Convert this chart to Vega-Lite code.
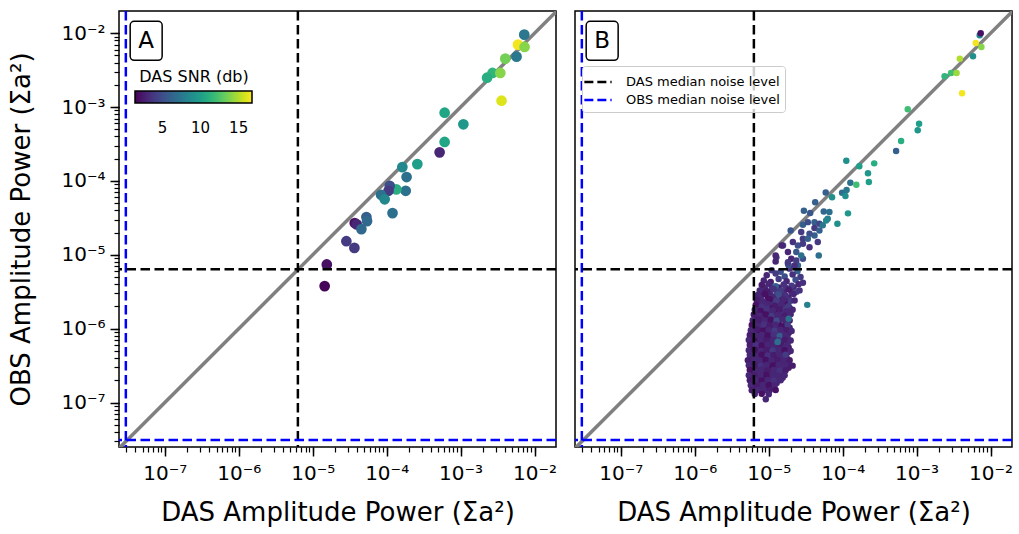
{
"$schema":"https://vega.github.io/schema/vega-lite/v6.json",
"padding":{"left":8,"top":9,"right":5,"bottom":5},
"config":{"font":"DejaVu Sans","view":{"stroke":"black","strokeWidth":1.5},
"axis":{"grid":false,"domain":false,"tickColor":"black","labelColor":"black","titleColor":"black","labelFont":"DejaVu Sans","titleFont":"DejaVu Sans","titleFontWeight":"normal"},
"legend":{"labelFont":"DejaVu Sans","titleFont":"DejaVu Sans","labelColor":"black","titleColor":"black"}},
"datasets":{
"diag":[{"x":2.0e-8,"y":2.0e-8},{"x":3.0e-2,"y":3.0e-2}],
"vlines":[{"x":6.3e-6,"name":"DAS median noise level"},{"x":2.97e-8,"name":"OBS median noise level"}],
"hlines":[{"y":6.4e-6,"name":"DAS median noise level"},{"y":3.1e-8,"name":"OBS median noise level"}],
"boxA":[{"label":"A","x":3.4e-8,"x2":9.2e-8,"y":4.3e-3,"y2":1.45e-2,"xc":5.6e-8,"yc":7.9e-3}],
"boxB":[{"label":"B","x":3.4e-8,"x2":9.2e-8,"y":4.3e-3,"y2":1.45e-2,"xc":5.6e-8,"yc":7.9e-3}],
"ptsA":[
{"x":7.26e-3,"y":9.57e-3,"s":7.5},{"x":5.97e-3,"y":7.01e-3,"s":16.5},{"x":7.33e-3,"y":6.52e-3,"s":14},{"x":4.02e-3,"y":4.53e-3,"s":13.5},{"x":5.71e-3,"y":4.82e-3,"s":7.5},{"x":2.70e-3,"y":2.90e-3,"s":11.5},{"x":2.28e-3,"y":2.50e-3,"s":11},{"x":3.44e-3,"y":2.90e-3,"s":14},{"x":3.58e-3,"y":1.22e-3,"s":16},{"x":6.08e-4,"y":8.39e-4,"s":10.5},{"x":1.09e-3,"y":5.85e-4,"s":9.5},{"x":6.08e-4,"y":3.37e-4,"s":10.5},{"x":5.20e-4,"y":2.44e-4,"s":3},{"x":1.63e-4,"y":1.54e-4,"s":8.5},{"x":2.60e-4,"y":1.69e-4,"s":10},{"x":1.86e-4,"y":1.13e-4,"s":7},{"x":1.81e-4,"y":7.36e-5,"s":7},{"x":1.35e-4,"y":7.69e-5,"s":11},{"x":1.10e-4,"y":8.61e-5,"s":5},{"x":1.06e-4,"y":7.36e-5,"s":4},{"x":8.39e-5,"y":6.50e-5,"s":7},{"x":9.40e-5,"y":5.64e-5,"s":8.5},{"x":1.20e-4,"y":3.67e-5,"s":7},{"x":5.32e-5,"y":3.24e-5,"s":6},{"x":5.43e-5,"y":2.86e-5,"s":6.5},{"x":3.70e-5,"y":2.69e-5,"s":2},{"x":3.94e-5,"y":2.58e-5,"s":3},{"x":4.55e-5,"y":2.23e-5,"s":6.5},{"x":2.85e-5,"y":1.53e-5,"s":4},{"x":3.66e-5,"y":1.24e-5,"s":4},{"x":1.55e-5,"y":7.41e-6,"s":2},{"x":1.45e-5,"y":3.77e-6,"s":1.5}],
"ptsB":[
{"x":8.84e-6,"y":3.6e-6,"s":3},{"x":1.097e-5,"y":3.55e-6,"s":3.5},{"x":1.363e-5,"y":3.62e-6,"s":2.5},{"x":1.694e-5,"y":3.57e-6,"s":4},{"x":2.17e-5,"y":3.6e-6,"s":3},
{"x":8.3e-6,"y":3.05e-6,"s":2.5},{"x":1.031e-5,"y":3.1e-6,"s":3},{"x":1.281e-5,"y":3.03e-6,"s":4.5},{"x":1.592e-5,"y":3.08e-6,"s":3},{"x":2.04e-5,"y":3.05e-6,"s":3.5},
{"x":7.8e-6,"y":2.62e-6,"s":3},{"x":9.69e-6,"y":2.66e-6,"s":2},{"x":1.204e-5,"y":2.6e-6,"s":3},{"x":1.496e-5,"y":2.64e-6,"s":2.5},{"x":1.859e-5,"y":2.61e-6,"s":3},
{"x":7.56e-6,"y":2.26e-6,"s":3},{"x":9.12e-6,"y":2.23e-6,"s":2.5},{"x":1.132e-5,"y":2.27e-6,"s":3.5},{"x":1.406e-5,"y":2.24e-6,"s":3},{"x":1.747e-5,"y":2.26e-6,"s":2},
{"x":7.11e-6,"y":1.93e-6,"s":2.5},{"x":8.57e-6,"y":1.9e-6,"s":3},{"x":1.031e-5,"y":1.94e-6,"s":2},{"x":1.281e-5,"y":1.91e-6,"s":3},{"x":1.592e-5,"y":1.93e-6,"s":4},{"x":1.918e-5,"y":1.9e-6,"s":3},
{"x":6.89e-6,"y":1.65e-6,"s":3},{"x":8.3e-6,"y":1.63e-6,"s":2.5},{"x":1.0e-5,"y":1.66e-6,"s":3},{"x":1.242e-5,"y":1.64e-6,"s":2},{"x":1.496e-5,"y":1.65e-6,"s":3.5},{"x":1.859e-5,"y":1.63e-6,"s":3},
{"x":6.68e-6,"y":1.41e-6,"s":2},{"x":8.05e-6,"y":1.4e-6,"s":3},{"x":9.69e-6,"y":1.42e-6,"s":3},{"x":1.204e-5,"y":1.39e-6,"s":2.5},{"x":1.45e-5,"y":1.41e-6,"s":3},{"x":1.747e-5,"y":1.4e-6,"s":4},
{"x":6.48e-6,"y":1.2e-6,"s":3},{"x":7.8e-6,"y":1.21e-6,"s":2.5},{"x":9.4e-6,"y":1.19e-6,"s":3},{"x":1.132e-5,"y":1.21e-6,"s":3.5},{"x":1.363e-5,"y":1.2e-6,"s":2},{"x":1.694e-5,"y":1.19e-6,"s":3},
{"x":6.28e-6,"y":1.03e-6,"s":2.5},{"x":7.56e-6,"y":1.04e-6,"s":3},{"x":9.12e-6,"y":1.02e-6,"s":2},{"x":1.097e-5,"y":1.035e-6,"s":3},{"x":1.321e-5,"y":1.025e-6,"s":3},{"x":1.592e-5,"y":1.04e-6,"s":2.5},{"x":1.918e-5,"y":1.03e-6,"s":3},
{"x":6.09e-6,"y":8.8e-7,"s":3},{"x":7.33e-6,"y":8.9e-7,"s":2},{"x":8.84e-6,"y":8.75e-7,"s":3},{"x":1.064e-5,"y":8.85e-7,"s":2.5},{"x":1.281e-5,"y":8.8e-7,"s":3},{"x":1.543e-5,"y":8.9e-7,"s":3.5},{"x":1.859e-5,"y":8.75e-7,"s":2.5},
{"x":5.9e-6,"y":7.5e-7,"s":2.5},{"x":7.11e-6,"y":7.6e-7,"s":3},{"x":8.57e-6,"y":7.55e-7,"s":2.5},{"x":1.031e-5,"y":7.5e-7,"s":3},{"x":1.242e-5,"y":7.6e-7,"s":2},{"x":1.496e-5,"y":7.55e-7,"s":3},{"x":1.803e-5,"y":7.5e-7,"s":3},
{"x":5.9e-6,"y":6.45e-7,"s":3},{"x":7.11e-6,"y":6.5e-7,"s":2.5},{"x":8.57e-6,"y":6.4e-7,"s":3},{"x":1.031e-5,"y":6.48e-7,"s":2},{"x":1.242e-5,"y":6.44e-7,"s":3},{"x":1.496e-5,"y":6.5e-7,"s":2.5},{"x":1.803e-5,"y":6.42e-7,"s":3.5},
{"x":5.9e-6,"y":5.55e-7,"s":2},{"x":7.11e-6,"y":5.5e-7,"s":3},{"x":8.57e-6,"y":5.56e-7,"s":3},{"x":1.031e-5,"y":5.5e-7,"s":2.5},{"x":1.242e-5,"y":5.54e-7,"s":3},{"x":1.496e-5,"y":5.52e-7,"s":3},{"x":1.859e-5,"y":5.55e-7,"s":2.5},
{"x":5.9e-6,"y":4.75e-7,"s":3},{"x":7.11e-6,"y":4.7e-7,"s":2.5},{"x":8.57e-6,"y":4.76e-7,"s":3},{"x":1.031e-5,"y":4.72e-7,"s":2},{"x":1.242e-5,"y":4.74e-7,"s":3.5},{"x":1.496e-5,"y":4.7e-7,"s":3},{"x":1.803e-5,"y":4.75e-7,"s":2.5},
{"x":5.73e-6,"y":4.05e-7,"s":3},{"x":6.89e-6,"y":4.0e-7,"s":2},{"x":8.3e-6,"y":4.06e-7,"s":3},{"x":1.0e-5,"y":4.02e-7,"s":3},{"x":1.204e-5,"y":4.05e-7,"s":2.5},{"x":1.45e-5,"y":4.0e-7,"s":3},{"x":1.747e-5,"y":4.04e-7,"s":3},
{"x":5.73e-6,"y":3.45e-7,"s":2.5},{"x":6.89e-6,"y":3.48e-7,"s":3},{"x":8.3e-6,"y":3.44e-7,"s":2.5},{"x":1.0e-5,"y":3.47e-7,"s":3},{"x":1.204e-5,"y":3.45e-7,"s":2},{"x":1.45e-5,"y":3.48e-7,"s":3},{"x":1.803e-5,"y":3.44e-7,"s":3},
{"x":5.9e-6,"y":2.97e-7,"s":3},{"x":7.11e-6,"y":2.94e-7,"s":2.5},{"x":8.57e-6,"y":2.98e-7,"s":3},{"x":1.031e-5,"y":2.95e-7,"s":2},{"x":1.242e-5,"y":2.97e-7,"s":3},{"x":1.496e-5,"y":2.94e-7,"s":3.5},{"x":1.859e-5,"y":2.96e-7,"s":2.5},
{"x":5.9e-6,"y":2.54e-7,"s":2.5},{"x":7.11e-6,"y":2.52e-7,"s":3},{"x":8.57e-6,"y":2.55e-7,"s":2},{"x":1.031e-5,"y":2.52e-7,"s":3},{"x":1.242e-5,"y":2.54e-7,"s":3},{"x":1.496e-5,"y":2.52e-7,"s":2.5},
{"x":5.9e-6,"y":2.17e-7,"s":3},{"x":7.11e-6,"y":2.15e-7,"s":2},{"x":8.57e-6,"y":2.18e-7,"s":3},{"x":1.031e-5,"y":2.15e-7,"s":2.5},{"x":1.242e-5,"y":2.17e-7,"s":3},{"x":1.543e-5,"y":2.16e-7,"s":3},
{"x":6.09e-6,"y":1.86e-7,"s":2.5},{"x":7.33e-6,"y":1.84e-7,"s":3},{"x":8.84e-6,"y":1.86e-7,"s":3},{"x":1.064e-5,"y":1.85e-7,"s":2},{"x":1.281e-5,"y":1.84e-7,"s":3},
{"x":6.28e-6,"y":1.6e-7,"s":3},{"x":7.56e-6,"y":1.58e-7,"s":2.5},{"x":9.12e-6,"y":1.6e-7,"s":3},{"x":1.097e-5,"y":1.59e-7,"s":2.5},
{"x":1.097e-5,"y":6.2e-6,"s":4},{"x":1.45e-5,"y":5.9e-6,"s":5},{"x":1.918e-5,"y":6.5e-6,"s":3.5},{"x":2.45e-5,"y":6.0e-6,"s":6},
{"x":9.4e-6,"y":5.3e-6,"s":3},{"x":1.242e-5,"y":5.6e-6,"s":4},{"x":1.642e-5,"y":5.1e-6,"s":5},{"x":2.105e-5,"y":5.4e-6,"s":3.5},{"x":2.69e-5,"y":5.0e-6,"s":4},
{"x":8.57e-6,"y":4.5e-6,"s":3},{"x":1.064e-5,"y":4.3e-6,"s":2.5},{"x":1.363e-5,"y":4.7e-6,"s":4},{"x":1.747e-5,"y":4.4e-6,"s":3},{"x":2.31e-5,"y":4.6e-6,"s":5},
{"x":8.05e-6,"y":3.9e-6,"s":2.5},{"x":1.0e-5,"y":4.05e-6,"s":3},{"x":1.242e-5,"y":3.75e-6,"s":6},{"x":1.592e-5,"y":3.95e-6,"s":3.5},{"x":2.04e-5,"y":3.8e-6,"s":4},{"x":2.53e-5,"y":4.0e-6,"s":3},
{"x":7.56e-6,"y":3.3e-6,"s":3},{"x":9.4e-6,"y":3.2e-6,"s":2.5},{"x":1.167e-5,"y":3.45e-6,"s":3.5},{"x":1.45e-5,"y":3.25e-6,"s":4},{"x":1.859e-5,"y":3.4e-6,"s":2.5},{"x":2.38e-5,"y":3.15e-6,"s":5},
{"x":7.11e-6,"y":2.85e-6,"s":3},{"x":8.84e-6,"y":2.95e-6,"s":2},{"x":1.097e-5,"y":2.75e-6,"s":3},{"x":1.363e-5,"y":2.9e-6,"s":5},{"x":1.694e-5,"y":2.8e-6,"s":3.5},{"x":2.17e-5,"y":2.95e-6,"s":3},
{"x":6.89e-6,"y":2.45e-6,"s":2.5},{"x":8.3e-6,"y":2.35e-6,"s":3},{"x":1.031e-5,"y":2.5e-6,"s":2},{"x":1.281e-5,"y":2.4e-6,"s":4},{"x":1.592e-5,"y":2.48e-6,"s":3},{"x":1.978e-5,"y":2.38e-6,"s":4},
{"x":6.68e-6,"y":2.1e-6,"s":2},{"x":8.05e-6,"y":2.0e-6,"s":3.5},{"x":9.69e-6,"y":2.15e-6,"s":3},{"x":1.204e-5,"y":2.05e-6,"s":2.5},{"x":1.496e-5,"y":2.12e-6,"s":3},{"x":1.859e-5,"y":2.02e-6,"s":4},
{"x":6.48e-6,"y":1.8e-6,"s":3},{"x":7.8e-6,"y":1.74e-6,"s":2},{"x":9.4e-6,"y":1.84e-6,"s":3.5},{"x":1.132e-5,"y":1.76e-6,"s":3},{"x":1.406e-5,"y":1.82e-6,"s":2.5},{"x":1.747e-5,"y":1.72e-6,"s":3},{"x":2.105e-5,"y":1.8e-6,"s":3},
{"x":6.28e-6,"y":1.55e-6,"s":2.5},{"x":7.56e-6,"y":1.5e-6,"s":3},{"x":9.12e-6,"y":1.56e-6,"s":2},{"x":1.097e-5,"y":1.48e-6,"s":4},{"x":1.321e-5,"y":1.53e-6,"s":3},{"x":1.642e-5,"y":1.5e-6,"s":2.5},{"x":1.978e-5,"y":1.57e-6,"s":3},
{"x":6.09e-6,"y":1.3e-6,"s":3},{"x":7.33e-6,"y":1.34e-6,"s":2.5},{"x":8.84e-6,"y":1.27e-6,"s":3},{"x":1.064e-5,"y":1.32e-6,"s":2},{"x":1.281e-5,"y":1.28e-6,"s":5},{"x":1.543e-5,"y":1.33e-6,"s":3},{"x":1.918e-5,"y":1.29e-6,"s":2.5},
{"x":5.9e-6,"y":1.12e-6,"s":2},{"x":7.11e-6,"y":1.09e-6,"s":3},{"x":8.57e-6,"y":1.14e-6,"s":3.5},{"x":1.031e-5,"y":1.1e-6,"s":2.5},{"x":1.242e-5,"y":1.13e-6,"s":3},{"x":1.496e-5,"y":1.08e-6,"s":2},{"x":1.803e-5,"y":1.12e-6,"s":4},
{"x":5.73e-6,"y":9.5e-7,"s":3},{"x":6.89e-6,"y":9.8e-7,"s":2.5},{"x":8.3e-6,"y":9.3e-7,"s":2},{"x":1.0e-5,"y":9.6e-7,"s":3},{"x":1.204e-5,"y":9.4e-7,"s":4},{"x":1.45e-5,"y":9.7e-7,"s":3},{"x":1.747e-5,"y":9.5e-7,"s":2.5},{"x":2.04e-5,"y":9.3e-7,"s":3},
{"x":5.55e-6,"y":8.2e-7,"s":2.5},{"x":6.68e-6,"y":8.0e-7,"s":3},{"x":8.05e-6,"y":8.3e-7,"s":3},{"x":9.69e-6,"y":8.1e-7,"s":2},{"x":1.167e-5,"y":8.25e-7,"s":3.5},{"x":1.406e-5,"y":7.95e-7,"s":6},{"x":1.694e-5,"y":8.15e-7,"s":3},
{"x":5.38e-6,"y":7.0e-7,"s":3},{"x":6.48e-6,"y":6.85e-7,"s":2},{"x":7.8e-6,"y":7.1e-7,"s":3},{"x":9.4e-6,"y":6.9e-7,"s":2.5},{"x":1.132e-5,"y":7.05e-7,"s":3},{"x":1.363e-5,"y":6.95e-7,"s":4},{"x":1.642e-5,"y":7.0e-7,"s":2.5},{"x":1.978e-5,"y":6.9e-7,"s":3},
{"x":5.55e-6,"y":6.0e-7,"s":2.5},{"x":6.68e-6,"y":6.1e-7,"s":3.5},{"x":8.05e-6,"y":5.9e-7,"s":2},{"x":9.69e-6,"y":6.05e-7,"s":3},{"x":1.167e-5,"y":5.95e-7,"s":3},{"x":1.406e-5,"y":6.0e-7,"s":2.5},{"x":1.747e-5,"y":5.85e-7,"s":3},
{"x":5.38e-6,"y":5.1e-7,"s":3},{"x":6.48e-6,"y":5.2e-7,"s":2},{"x":7.8e-6,"y":5.0e-7,"s":3},{"x":9.4e-6,"y":5.15e-7,"s":2.5},{"x":1.132e-5,"y":5.05e-7,"s":4},{"x":1.363e-5,"y":5.2e-7,"s":3},{"x":1.642e-5,"y":5.1e-7,"s":2},{"x":1.978e-5,"y":5.0e-7,"s":3},
{"x":5.55e-6,"y":4.4e-7,"s":3},{"x":6.68e-6,"y":4.3e-7,"s":3},{"x":8.05e-6,"y":4.45e-7,"s":2},{"x":9.69e-6,"y":4.35e-7,"s":3.5},{"x":1.167e-5,"y":4.4e-7,"s":2.5},{"x":1.406e-5,"y":4.3e-7,"s":3},{"x":1.694e-5,"y":4.45e-7,"s":4},
{"x":5.22e-6,"y":3.75e-7,"s":2.5},{"x":6.28e-6,"y":3.8e-7,"s":3},{"x":7.56e-6,"y":3.7e-7,"s":3},{"x":9.12e-6,"y":3.78e-7,"s":2},{"x":1.097e-5,"y":3.72e-7,"s":3},{"x":1.321e-5,"y":3.76e-7,"s":2.5},{"x":1.592e-5,"y":3.7e-7,"s":3},{"x":1.918e-5,"y":3.74e-7,"s":2.5},
{"x":5.38e-6,"y":3.2e-7,"s":3},{"x":6.48e-6,"y":3.25e-7,"s":2.5},{"x":7.8e-6,"y":3.15e-7,"s":3.5},{"x":9.4e-6,"y":3.22e-7,"s":3},{"x":1.132e-5,"y":3.18e-7,"s":2},{"x":1.363e-5,"y":3.24e-7,"s":3},{"x":1.642e-5,"y":3.2e-7,"s":3},{"x":2.105e-5,"y":3.16e-7,"s":2.5},
{"x":5.55e-6,"y":2.75e-7,"s":2},{"x":6.68e-6,"y":2.7e-7,"s":3},{"x":8.05e-6,"y":2.78e-7,"s":3},{"x":9.69e-6,"y":2.72e-7,"s":2.5},{"x":1.167e-5,"y":2.76e-7,"s":3},{"x":1.406e-5,"y":2.7e-7,"s":3.5},{"x":1.694e-5,"y":2.74e-7,"s":2.5},
{"x":5.38e-6,"y":2.35e-7,"s":3},{"x":6.48e-6,"y":2.32e-7,"s":2.5},{"x":7.8e-6,"y":2.37e-7,"s":3},{"x":9.4e-6,"y":2.33e-7,"s":2},{"x":1.132e-5,"y":2.36e-7,"s":3},{"x":1.363e-5,"y":2.31e-7,"s":3},{"x":1.642e-5,"y":2.34e-7,"s":3},
{"x":5.55e-6,"y":2.0e-7,"s":2.5},{"x":6.68e-6,"y":2.03e-7,"s":3},{"x":8.05e-6,"y":1.98e-7,"s":2},{"x":9.69e-6,"y":2.02e-7,"s":3},{"x":1.167e-5,"y":1.99e-7,"s":3.5},{"x":1.45e-5,"y":2.01e-7,"s":3},
{"x":5.73e-6,"y":1.72e-7,"s":3},{"x":6.89e-6,"y":1.7e-7,"s":2.5},{"x":8.3e-6,"y":1.73e-7,"s":3},{"x":1.0e-5,"y":1.71e-7,"s":2},{"x":1.204e-5,"y":1.72e-7,"s":3},
{"x":5.9e-6,"y":1.47e-7,"s":2.5},{"x":7.11e-6,"y":1.48e-7,"s":3},{"x":8.57e-6,"y":1.46e-7,"s":3},{"x":1.031e-5,"y":1.47e-7,"s":2.5},{"x":1.242e-5,"y":1.48e-7,"s":2},
{"x":6.48e-6,"y":1.3e-7,"s":3},{"x":8.05e-6,"y":1.31e-7,"s":2},{"x":1.0e-5,"y":1.29e-7,"s":3},{"x":9.12e-6,"y":1.11e-7,"s":3},
{"x":1.86e-5,"y":1.36e-6,"s":7},{"x":1.32e-5,"y":6.6e-7,"s":7},{"x":3.32e-5,"y":2.1e-6,"s":8},
{"x":4.16e-5,"y":1.83e-5,"s":6},{"x":2.9e-5,"y":8.83e-6,"s":5},{"x":1.82e-5,"y":7.55e-6,"s":4},{"x":1.27e-5,"y":9.3e-6,"s":4},{"x":1.56e-5,"y":1.34e-5,"s":4},{"x":2.48e-5,"y":7.18e-6,"s":6},{"x":1.86e-5,"y":7.18e-6,"s":5},{"x":2.9e-5,"y":4.18e-6,"s":3.5},{"x":2.61e-5,"y":3.3e-6,"s":3.5},{"x":2.24e-5,"y":2.41e-6,"s":3},
{"x":1.12e-4,"y":1.88e-4,"s":9},{"x":1.68e-4,"y":1.58e-4,"s":10},{"x":2.67e-4,"y":1.73e-4,"s":11},{"x":2.20e-4,"y":1.27e-4,"s":9.5},{"x":2.26e-4,"y":9.66e-5,"s":10},{"x":1.27e-4,"y":9.46e-5,"s":7},{"x":1.53e-4,"y":8.89e-5,"s":12},{"x":1.13e-4,"y":7.53e-5,"s":7.5},{"x":9.82e-5,"y":6.92e-5,"s":7},{"x":1.09e-4,"y":6.24e-5,"s":9},{"x":7.19e-5,"y":6.0e-5,"s":9},{"x":5.90e-5,"y":7.0e-5,"s":6},{"x":4.25e-5,"y":5.13e-5,"s":6},{"x":5.55e-5,"y":3.87e-5,"s":6.5},{"x":6.62e-5,"y":3.79e-5,"s":7},{"x":1.18e-4,"y":3.64e-5,"s":9.5},{"x":2.99e-5,"y":3.94e-5,"s":6},{"x":3.64e-5,"y":3.67e-5,"s":5.5},{"x":6.28e-5,"y":3.08e-5,"s":8},{"x":8.49e-5,"y":2.63e-5,"s":9},{"x":2.90e-5,"y":2.55e-5,"s":6},{"x":3.38e-5,"y":2.77e-5,"s":5},{"x":4.16e-5,"y":2.77e-5,"s":6},{"x":4.85e-5,"y":2.63e-5,"s":4.5},{"x":5.38e-5,"y":2.51e-5,"s":7.5},{"x":5.98e-5,"y":2.92e-5,"s":8.5},{"x":4.16e-5,"y":2.30e-5,"s":4},{"x":4.85e-5,"y":2.14e-5,"s":6},{"x":1.98e-5,"y":2.14e-5,"s":5.5},{"x":2.75e-5,"y":2.03e-5,"s":4},{"x":3.56e-5,"y":1.93e-5,"s":5},{"x":2.90e-5,"y":1.65e-5,"s":4},{"x":3.38e-5,"y":1.65e-5,"s":6},{"x":4.61e-5,"y":1.49e-5,"s":4},{"x":2.12e-5,"y":1.49e-5,"s":3.5},{"x":1.50e-5,"y":1.34e-5,"s":3},{"x":2.48e-5,"y":1.34e-5,"s":5},{"x":2.90e-5,"y":1.41e-5,"s":4},{"x":3.56e-5,"y":1.27e-5,"s":3.5},{"x":1.82e-5,"y":1.09e-5,"s":3},{"x":2.36e-5,"y":1.09e-5,"s":5.5},{"x":2.75e-5,"y":9.8e-6,"s":7},{"x":4.75e-5,"y":9.8e-6,"s":7},{"x":1.24e-5,"y":9.8e-6,"s":3},{"x":2.02e-5,"y":8.83e-6,"s":3},{"x":1.24e-5,"y":8.13e-6,"s":3},{"x":1.82e-5,"y":7.96e-6,"s":4},{"x":2.24e-5,"y":7.18e-6,"s":3.5},{"x":2.36e-5,"y":8.39e-6,"s":4},
{"x":5.28e-4,"y":2.54e-4,"s":6},{"x":6.17e-4,"y":3.48e-4,"s":11},{"x":1.035e-3,"y":4.85e-4,"s":9.5},{"x":1.08e-3,"y":5.96e-4,"s":10},{"x":7.59e-4,"y":9.33e-4,"s":12},{"x":4.12e-3,"y":1.54e-3,"s":16.5},{"x":2.39e-3,"y":2.61e-3,"s":11.5},{"x":2.93e-3,"y":2.90e-3,"s":12},{"x":3.47e-3,"y":2.90e-3,"s":14.5},{"x":3.84e-3,"y":4.53e-3,"s":15},{"x":5.79e-3,"y":4.88e-3,"s":9},{"x":7.52e-3,"y":6.52e-3,"s":14},{"x":6.31e-3,"y":7.4e-3,"s":16.5},{"x":7.13e-3,"y":9.4e-3,"s":8.5},{"x":7.36e-3,"y":1.0e-2,"s":2}]
},
"spacing":15,
"resolve":{"scale":{"color":"independent","stroke":"independent"}},
"hconcat":[
{"width":437,"height":436,
"resolve":{"axis":{"x":"independent","y":"independent"}},
"layer":[
{"data":{"name":"diag"},"mark":{"type":"line","color":"#808080","strokeWidth":3.5,"clip":true},
"encoding":{
"x":{"field":"x","type":"quantitative","scale":{"type":"log","domain":[2.4e-8,1.95e-2],"nice":false},
"axis":{"orient":"bottom","values":[3e-8,4e-8,5e-8,6e-8,7e-8,8e-8,9e-8,1e-7,2e-7,3e-7,4e-7,5e-7,6e-7,7e-7,8e-7,9e-7,1e-6,2e-6,3e-6,4e-6,5e-6,6e-6,7e-6,8e-6,9e-6,1e-5,2e-5,3e-5,4e-5,5e-5,6e-5,7e-5,8e-5,9e-5,1e-4,2e-4,3e-4,4e-4,5e-4,6e-4,7e-4,8e-4,9e-4,1e-3,2e-3,3e-3,4e-3,5e-3,6e-3,7e-3,8e-3,9e-3,1e-2],
"labelExpr":"abs(log(datum.value)/LN10 - round(log(datum.value)/LN10)) < 0.001 ? '10⁻' + ['⁰','¹','²','³','⁴','⁵','⁶','⁷','⁸','⁹'][-round(log(datum.value)/LN10)] : ''",
"tickSize":5,"tickWidth":1.2,"labelFontSize":20,"labelPadding":11,"labelOverlap":false,"labelFlush":false,"labelBound":false,
"title":"DAS Amplitude Power (Σa²)","titleFontSize":26,"titlePadding":16}},
"y":{"field":"y","type":"quantitative","scale":{"type":"log","domain":[2.5e-8,2.0e-2],"nice":false},
"axis":{"orient":"left","values":[3e-8,4e-8,5e-8,6e-8,7e-8,8e-8,9e-8,1e-7,2e-7,3e-7,4e-7,5e-7,6e-7,7e-7,8e-7,9e-7,1e-6,2e-6,3e-6,4e-6,5e-6,6e-6,7e-6,8e-6,9e-6,1e-5,2e-5,3e-5,4e-5,5e-5,6e-5,7e-5,8e-5,9e-5,1e-4,2e-4,3e-4,4e-4,5e-4,6e-4,7e-4,8e-4,9e-4,1e-3,2e-3,3e-3,4e-3,5e-3,6e-3,7e-3,8e-3,9e-3,1e-2],
"labelExpr":"abs(log(datum.value)/LN10 - round(log(datum.value)/LN10)) < 0.001 ? '10⁻' + ['⁰','¹','²','³','⁴','⁵','⁶','⁷','⁸','⁹'][-round(log(datum.value)/LN10)] : ''",
"tickSize":5,"tickWidth":1.2,"labelFontSize":20,"labelPadding":9,"labelOverlap":false,"labelFlush":false,"labelBound":false,
"title":"OBS Amplitude Power (Σa²)","titleFontSize":26,"titlePadding":26}}}},
{"data":{"name":"ptsA"},"mark":{"type":"circle","size":115,"opacity":1},
"encoding":{
"x":{"field":"x","type":"quantitative","scale":{"type":"log","domain":[2.4e-8,1.95e-2],"nice":false},
"axis":{"orient":"bottom","values":[1e-7,1e-6,1e-5,1e-4,1e-3,1e-2],"tickSize":9,"tickWidth":1.5,"labels":false,"title":null}},
"y":{"field":"y","type":"quantitative","scale":{"type":"log","domain":[2.5e-8,2.0e-2],"nice":false},
"axis":{"orient":"left","values":[1e-7,1e-6,1e-5,1e-4,1e-3,1e-2],"tickSize":9,"tickWidth":1.5,"labels":false,"title":null}},
"color":{"field":"s","type":"quantitative","scale":{"scheme":"viridis","domain":[1.4,16.75]},
"legend":{"orient":"none","direction":"horizontal","legendX":16,"legendY":58,"title":"DAS SNR (db)","titleFontSize":16,"titleFontWeight":"normal","titleAnchor":"middle","titlePadding":6,"gradientLength":117,"gradientThickness":12,"gradientStrokeColor":"black","gradientStrokeWidth":1.5,"values":[5,10,15],"labelFontSize":15,"labelOffset":18}}}},
{"data":{"name":"vlines"},"mark":{"type":"rule","strokeWidth":2.5,"strokeDash":[9.5,4.5]},
"encoding":{
"x":{"field":"x","type":"quantitative","scale":{"type":"log","domain":[2.4e-8,1.95e-2],"nice":false},"axis":null},
"stroke":{"field":"name","type":"nominal","scale":{"domain":["DAS median noise level","OBS median noise level"],"range":["black","blue"]},"legend":null}}},
{"data":{"name":"hlines"},"mark":{"type":"rule","strokeWidth":2.5,"strokeDash":[9.5,4.5]},
"encoding":{
"y":{"field":"y","type":"quantitative","scale":{"type":"log","domain":[2.5e-8,2.0e-2],"nice":false},"axis":null},
"stroke":{"field":"name","type":"nominal","scale":{"domain":["DAS median noise level","OBS median noise level"],"range":["black","blue"]},"legend":null}}},
{"data":{"name":"boxA"},"mark":{"type":"rect","fill":"white","stroke":"black","strokeWidth":1.5,"cornerRadius":4},
"encoding":{
"x":{"field":"x","type":"quantitative","scale":{"type":"log","domain":[2.4e-8,1.95e-2],"nice":false},"axis":null},"x2":{"field":"x2"},
"y":{"field":"y","type":"quantitative","scale":{"type":"log","domain":[2.5e-8,2.0e-2],"nice":false},"axis":null},"y2":{"field":"y2"}}},
{"data":{"name":"boxA"},"mark":{"type":"text","fontSize":23,"align":"center","baseline":"middle","color":"black"},
"encoding":{
"x":{"field":"xc","type":"quantitative","scale":{"type":"log","domain":[2.4e-8,1.95e-2],"nice":false},"axis":null},
"y":{"field":"yc","type":"quantitative","scale":{"type":"log","domain":[2.5e-8,2.0e-2],"nice":false},"axis":null},
"text":{"field":"label"}}}
]},
{"width":437,"height":436,
"resolve":{"axis":{"x":"independent"}},
"layer":[
{"data":{"name":"diag"},"mark":{"type":"line","color":"#808080","strokeWidth":3.5,"clip":true},
"encoding":{
"x":{"field":"x","type":"quantitative","scale":{"type":"log","domain":[2.4e-8,1.95e-2],"nice":false},
"axis":{"orient":"bottom","values":[3e-8,4e-8,5e-8,6e-8,7e-8,8e-8,9e-8,1e-7,2e-7,3e-7,4e-7,5e-7,6e-7,7e-7,8e-7,9e-7,1e-6,2e-6,3e-6,4e-6,5e-6,6e-6,7e-6,8e-6,9e-6,1e-5,2e-5,3e-5,4e-5,5e-5,6e-5,7e-5,8e-5,9e-5,1e-4,2e-4,3e-4,4e-4,5e-4,6e-4,7e-4,8e-4,9e-4,1e-3,2e-3,3e-3,4e-3,5e-3,6e-3,7e-3,8e-3,9e-3,1e-2],
"labelExpr":"abs(log(datum.value)/LN10 - round(log(datum.value)/LN10)) < 0.001 ? '10⁻' + ['⁰','¹','²','³','⁴','⁵','⁶','⁷','⁸','⁹'][-round(log(datum.value)/LN10)] : ''",
"tickSize":5,"tickWidth":1.2,"labelFontSize":20,"labelPadding":11,"labelOverlap":false,"labelFlush":false,"labelBound":false,
"title":"DAS Amplitude Power (Σa²)","titleFontSize":26,"titlePadding":16}},
"y":{"field":"y","type":"quantitative","scale":{"type":"log","domain":[2.5e-8,2.0e-2],"nice":false},"axis":null}}},
{"data":{"name":"ptsB"},"mark":{"type":"circle","size":42,"opacity":1},
"encoding":{
"x":{"field":"x","type":"quantitative","scale":{"type":"log","domain":[2.4e-8,1.95e-2],"nice":false},
"axis":{"orient":"bottom","values":[1e-7,1e-6,1e-5,1e-4,1e-3,1e-2],"tickSize":9,"tickWidth":1.5,"labels":false,"title":null}},
"y":{"field":"y","type":"quantitative","scale":{"type":"log","domain":[2.5e-8,2.0e-2],"nice":false},"axis":null},
"color":{"field":"s","type":"quantitative","scale":{"scheme":"viridis","domain":[1.4,16.75]},"legend":null}}},
{"data":{"name":"vlines"},"mark":{"type":"rule","strokeWidth":2.5,"strokeDash":[9.5,4.5]},
"encoding":{
"x":{"field":"x","type":"quantitative","scale":{"type":"log","domain":[2.4e-8,1.95e-2],"nice":false},"axis":null},
"stroke":{"field":"name","type":"nominal","scale":{"domain":["DAS median noise level","OBS median noise level"],"range":["black","blue"]},
"legend":{"orient":"none","legendX":7,"legendY":55,"title":null,"symbolType":"M-1.4,0H1.4","symbolSize":380,"symbolStrokeWidth":2.5,"symbolDash":[9,4],"symbolFillColor":"transparent","labelFontSize":13,"labelOffset":17,"rowPadding":0,"padding":5,"fillColor":"rgba(255,255,255,0.8)","strokeColor":"#cccccc","cornerRadius":3}}}},
{"data":{"name":"hlines"},"mark":{"type":"rule","strokeWidth":2.5,"strokeDash":[9.5,4.5]},
"encoding":{
"y":{"field":"y","type":"quantitative","scale":{"type":"log","domain":[2.5e-8,2.0e-2],"nice":false},"axis":null},
"stroke":{"field":"name","type":"nominal","scale":{"domain":["DAS median noise level","OBS median noise level"],"range":["black","blue"]},"legend":null}}},
{"data":{"name":"boxB"},"mark":{"type":"rect","fill":"white","stroke":"black","strokeWidth":1.5,"cornerRadius":4},
"encoding":{
"x":{"field":"x","type":"quantitative","scale":{"type":"log","domain":[2.4e-8,1.95e-2],"nice":false},"axis":null},"x2":{"field":"x2"},
"y":{"field":"y","type":"quantitative","scale":{"type":"log","domain":[2.5e-8,2.0e-2],"nice":false},"axis":null},"y2":{"field":"y2"}}},
{"data":{"name":"boxB"},"mark":{"type":"text","fontSize":23,"align":"center","baseline":"middle","color":"black"},
"encoding":{
"x":{"field":"xc","type":"quantitative","scale":{"type":"log","domain":[2.4e-8,1.95e-2],"nice":false},"axis":null},
"y":{"field":"yc","type":"quantitative","scale":{"type":"log","domain":[2.5e-8,2.0e-2],"nice":false},"axis":null},
"text":{"field":"label"}}}
]}
]
}
